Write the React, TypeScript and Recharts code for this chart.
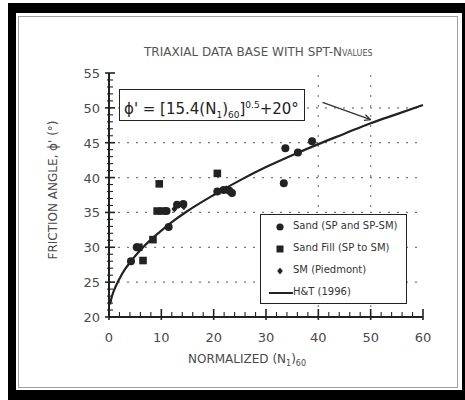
import { ComposedChart, Line, Scatter, XAxis, YAxis, ReferenceLine } from 'recharts';

// (N1)60 vs friction angle
const sandPoints = [
  { n: 4.2, phi: 28.0 },
  { n: 5.3, phi: 30.0 },
  { n: 11.4, phi: 32.9 },
  { n: 11.0, phi: 35.2 },
  { n: 13.0, phi: 36.1 },
  { n: 14.2, phi: 36.2 },
  { n: 20.7, phi: 38.0 },
  { n: 21.9, phi: 38.2 },
  { n: 23.0, phi: 38.1 },
  { n: 23.5, phi: 37.8 },
  { n: 33.4, phi: 39.2 },
  { n: 33.7, phi: 44.2 },
  { n: 36.1, phi: 43.6 },
  { n: 38.8, phi: 45.2 },
];
const fillPoints = [
  { n: 5.7, phi: 30.0 },
  { n: 6.5, phi: 28.1 },
  { n: 8.4, phi: 31.1 },
  { n: 9.2, phi: 35.2 },
  { n: 10.2, phi: 35.2 },
  { n: 9.6, phi: 39.1 },
  { n: 20.7, phi: 40.6 },
];
const piedmontPoints = [
  { n: 12.5, phi: 35.5 },
  { n: 14.3, phi: 35.8 },
  { n: 22.4, phi: 38.4 },
];
// H&T (1996) curve
const curvePoints = [
  { n: 0.2, phi: 21.8 }, { n: 0.5, phi: 22.8 }, { n: 1, phi: 23.9 }, { n: 2, phi: 25.5 },
  { n: 3, phi: 26.8 }, { n: 4, phi: 27.8 }, { n: 6, phi: 29.6 }, { n: 8, phi: 31.1 },
  { n: 10, phi: 32.4 }, { n: 12, phi: 33.6 }, { n: 15, phi: 35.2 }, { n: 20, phi: 37.5 },
  { n: 25, phi: 39.6 }, { n: 30, phi: 41.5 }, { n: 35, phi: 43.2 }, { n: 40, phi: 44.8 },
  { n: 45, phi: 46.3 }, { n: 50, phi: 47.8 }, { n: 55, phi: 49.1 }, { n: 60, phi: 50.4 },
];

const xTicks = [0, 2, 4, 6, 8, 10, 12, 14, 16, 18, 20, 22, 24, 26, 28, 30, 32, 34, 36, 38, 40, 42, 44, 46, 48, 50, 52, 54, 56, 58, 60];
const yTicks = [20, 21, 22, 23, 24, 25, 26, 27, 28, 29, 30, 31, 32, 33, 34, 35, 36, 37, 38, 39, 40, 41, 42, 43, 44, 45, 46, 47, 48, 49, 50, 51, 52, 53, 54, 55];
const yGrid = [25, 30, 35, 40, 45, 50];
const xGrid = [40, 50];

const INK = '#222';
const TEXT = '#4a4a4a';
const FONT = '"DejaVu Sans", Verdana, sans-serif';

function XTick(props: any) {
  const { x, y, payload } = props;
  const v = payload.value;
  const major = v % 10 === 0;
  return (
    <g>
      <line x1={x} x2={x} y1={y + (major ? 3 : 0)} y2={y - (major ? 8 : 5)} stroke={INK} strokeWidth={major ? 1.6 : 1.1} />
      {major && (
        <text x={x} y={y + 25} textAnchor="middle" fontSize={13} fill={TEXT} fontFamily={FONT}>{v}</text>
      )}
    </g>
  );
}

function YTick(props: any) {
  const { x, y, payload } = props;
  const v = payload.value;
  const major = v % 5 === 0;
  return (
    <g>
      <line x1={x - (major ? 4 : 2)} x2={x + (major ? 6 : 4)} y1={y} y2={y} stroke={INK} strokeWidth={major ? 1.6 : 1.1} />
      {major && (
        <text x={x - 9} y={y + 5} textAnchor="end" fontSize={13} fill={TEXT} fontFamily={FONT}>{v}</text>
      )}
    </g>
  );
}

const dot = (p: any) => <circle cx={p.cx} cy={p.cy} r={4} fill={INK} />;
const square = (p: any) => <rect x={p.cx - 3.8} y={p.cy - 3.8} width={7.6} height={7.6} fill={INK} />;
const diamond = (p: any) => (
  <path d={`M${p.cx},${p.cy - 3.5}L${p.cx + 3},${p.cy}L${p.cx},${p.cy + 3.5}L${p.cx - 3},${p.cy}Z`} fill={INK} />
);

function LegendBox() {
  const rows = [
    { label: 'Sand (SP and SP-SM)', mark: <circle cx={19} cy={12} r={3.6} fill={INK} /> },
    { label: 'Sand Fill (SP to SM)', mark: <rect x={15.5} y={30.5} width={7} height={7} fill={INK} /> },
    { label: 'SM (Piedmont)', mark: <path d="M19,52.5L21.8,56L19,59.5L16.2,56Z" fill={INK} /> },
    { label: 'H&T (1996)', mark: <line x1={8} x2={32} y1={78} y2={78} stroke={INK} strokeWidth={2} /> },
  ];
  return (
    <div style={{ position: 'absolute', left: 260, top: 214, width: 147, height: 90, border: `1.5px solid ${INK}`, boxSizing: 'border-box', background: '#fff' }}>
      <svg width={40} height={90} style={{ position: 'absolute', left: 0, top: 0 }}>
        {rows.map((r, i) => <g key={i}>{r.mark}</g>)}
      </svg>
      {rows.map((r, i) => (
        <div key={i} style={{ position: 'absolute', left: 32, top: 5 + i * 22, fontSize: 10, color: '#333', fontFamily: FONT, whiteSpace: 'nowrap' }}>
          {r.label}
        </div>
      ))}
    </div>
  );
}

export default function App() {
  return (
    <div style={{ position: 'absolute', left: 0, top: 0, width: 465, height: 400, background: '#fff', fontFamily: FONT, overflow: 'hidden' }}>
      {/* photocopy frame */}
      <div style={{ position: 'absolute', left: 8, top: 3, width: 457, height: 10, background: '#000' }} />
      <div style={{ position: 'absolute', left: 8, top: 3, width: 8, height: 397, background: '#000' }} />
      <div style={{ position: 'absolute', left: 462, top: 3, width: 3, height: 397, background: '#000' }} />
      <div style={{ position: 'absolute', left: 8, top: 390, width: 457, height: 10, background: '#000' }} />
      <div style={{ position: 'absolute', left: 18, top: 16, width: 440, height: 372, border: '1.5px solid #a0a0a0', boxSizing: 'border-box' }} />

      <div style={{ position: 'absolute', left: 144, top: 45, fontSize: 12, color: '#555', whiteSpace: 'nowrap' }}>
        TRIAXIAL DATA BASE WITH SPT-N<span style={{ fontSize: 8 }}>VALUES</span>
      </div>

      <ComposedChart width={465} height={400} margin={{ top: 73, right: 42, bottom: 53, left: 49 }} style={{ position: 'absolute', left: 0, top: 0 }}>
        <XAxis type="number" dataKey="n" domain={[0, 60]} ticks={xTicks} interval={0} tick={<XTick />} tickSize={0} tickMargin={0} axisLine={{ stroke: INK, strokeWidth: 2 }} height={30} />
        <YAxis type="number" dataKey="phi" domain={[20, 55]} ticks={yTicks} interval={0} tick={<YTick />} tickSize={0} tickMargin={0} axisLine={{ stroke: INK, strokeWidth: 2 }} width={60} />
        {yGrid.map((v) => (
          <ReferenceLine key={`y${v}`} y={v} stroke="#777" strokeDasharray="2 7" strokeWidth={1.3} />
        ))}
        {xGrid.map((v) => (
          <ReferenceLine key={`x${v}`} x={v} stroke="#888" strokeDasharray="2 8" strokeWidth={1.3} />
        ))}
        <ReferenceLine segment={[{ x: 40.8, y: 50.8 }, { x: 50, y: 48.3 }]} stroke="#333" strokeWidth={1.3} />
        <ReferenceLine segment={[{ x: 49.0, y: 49.0 }, { x: 50, y: 48.3 }]} stroke="#333" strokeWidth={1.3} />
        <ReferenceLine segment={[{ x: 48.7, y: 48.2 }, { x: 50, y: 48.3 }]} stroke="#333" strokeWidth={1.3} />
        <Line data={curvePoints} dataKey="phi" type="monotone" stroke={INK} strokeWidth={2.2} dot={false} isAnimationActive={false} />
        <Scatter data={fillPoints} dataKey="phi" shape={square} isAnimationActive={false} />
        <Scatter data={sandPoints} dataKey="phi" shape={dot} isAnimationActive={false} />
        <Scatter data={piedmontPoints} dataKey="phi" shape={diamond} isAnimationActive={false} />
      </ComposedChart>

      <LegendBox />

      <div style={{ position: 'absolute', left: 119, top: 89, width: 186, height: 32, border: `1.5px solid ${INK}`, boxSizing: 'border-box', background: '#fff', fontSize: 15, color: INK, whiteSpace: 'nowrap', lineHeight: '30px', paddingLeft: 4 }}>
        ϕ' = [15.4(N<sub style={{ fontSize: 9 }}>1</sub>)<sub style={{ fontSize: 9 }}>60</sub>]<sup style={{ fontSize: 9 }}>0.5</sup>+20°
      </div>

      <div style={{ position: 'absolute', left: 188, top: 352, fontSize: 12, color: TEXT, whiteSpace: 'nowrap' }}>
        NORMALIZED (N<sub style={{ fontSize: 8 }}>1</sub>)<sub style={{ fontSize: 8 }}>60</sub>
      </div>

      <div style={{ position: 'absolute', left: 53, top: 190, transform: 'translate(-50%, -50%) rotate(-90deg)', fontSize: 12, color: TEXT, whiteSpace: 'nowrap' }}>
        FRICTION ANGLE, ϕ' (°)
      </div>
    </div>
  );
}
